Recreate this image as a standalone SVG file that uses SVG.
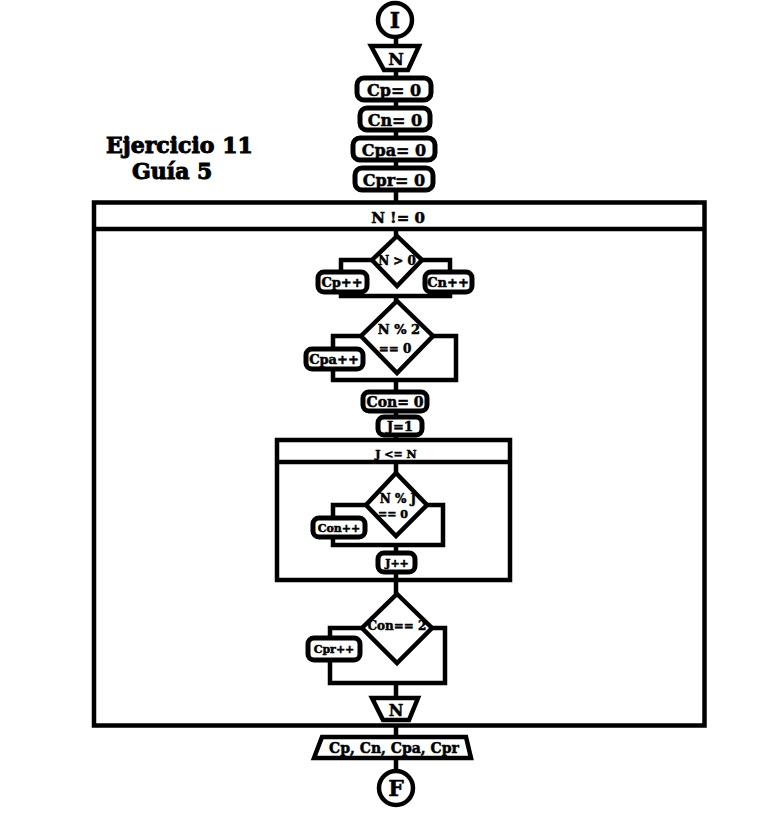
<svg xmlns="http://www.w3.org/2000/svg" width="780" height="815" viewBox="0 0 780 815">
<style>
.s{fill:#fff;stroke:#000;stroke-width:4.5;stroke-linejoin:miter}
.b{fill:#fff;stroke:#000;stroke-width:5}
.c{fill:none;stroke:#000;stroke-width:4.5;stroke-linejoin:miter}
text{font-family:"DejaVu Serif","Liberation Serif",serif;font-weight:bold;fill:#000;text-anchor:middle;stroke:#000;stroke-width:0.5}
.t{text-anchor:start;font-size:22px;stroke-width:1}
</style>
<rect width="780" height="815" fill="#fff"/>
<g id="title">
<text class="t" x="106" y="153">Ejercicio 11</text>
<text class="t" x="132" y="179">Guía 5</text>
</g>
<g id="connectors">
<path class="c" d="M396 38V46M396 70V78M396 100V108M396 130V138M396 160V168M396 190V202"/>
<path class="c" d="M396 229V236"/>
<path class="c" d="M372 260H341V272M341 292V296H450V292M422 260H450V272M396 296V301"/>
<path class="c" d="M361 336H333V349M333 369V380H456V336H433M396 380V392"/>
<path class="c" d="M396 411V417M396 435V440M396 462V473"/>
<path class="c" d="M366 505H333V518M333 537V545H443V505H427M396 545V553M396 572V580"/>
<path class="c" d="M396 580V594M362 628H330V638M330 660V683H445V628H432M396 683V698"/>
<path class="c" d="M396 727V737M396 758V770"/>
</g>
<g id="start">
<circle class="s" cx="395" cy="20" r="17"/>
<text x="395" y="28" font-size="22">I</text>
</g>
<g id="input-n">
<polygon class="s" points="371,46 419,46 408,70 384,70"/>
<text x="396" y="65" font-size="17">N</text>
</g>
<g id="cp0">
<rect class="b" x="357" y="78" width="74" height="22" rx="7"/>
<text x="394" y="96" font-size="16">Cp= 0</text>
</g>
<g id="cn0">
<rect class="b" x="360" y="108" width="70" height="22" rx="7"/>
<text x="395" y="126" font-size="16">Cn= 0</text>
</g>
<g id="cpa0">
<rect class="b" x="353" y="138" width="82" height="22" rx="7"/>
<text x="394" y="156" font-size="16">Cpa= 0</text>
</g>
<g id="cpr0">
<rect class="b" x="355" y="168" width="78" height="22" rx="7"/>
<text x="394" y="186" font-size="16">Cpr= 0</text>
</g>
<g id="loop-outer">
<rect class="c" x="94" y="202.5" width="610.5" height="523"/>
<line class="c" x1="94" y1="229" x2="704.5" y2="229"/>
<text x="398" y="223" font-size="15">N != 0</text>
</g>
<g id="dec-pos">
<polygon class="s" points="397,236 422,260 397,286 372,260"/>
<text x="397" y="265" font-size="12">N &gt; 0</text>
</g>
<g id="cp-inc">
<rect class="b" x="318" y="272" width="49" height="20" rx="6"/>
<text x="342" y="287" font-size="13">Cp++</text>
</g>
<g id="cn-inc">
<rect class="b" x="425" y="272" width="47" height="20" rx="6"/>
<text x="448" y="287" font-size="13">Cn++</text>
</g>
<g id="dec-par">
<polygon class="s" points="397,301 433,336 397,373 361,336"/>
<text x="399" y="334" font-size="13">N % 2</text>
<text x="395" y="353" font-size="12">== 0</text>
</g>
<g id="cpa-inc">
<rect class="b" x="306" y="349" width="57" height="20" rx="6"/>
<text x="334" y="364" font-size="13">Cpa++</text>
</g>
<g id="con0">
<rect class="b" x="363" y="392" width="64" height="19" rx="6"/>
<text x="395" y="407" font-size="14">Con= 0</text>
</g>
<g id="j1">
<rect class="b" x="378" y="417" width="44" height="18" rx="6"/>
<text x="400" y="431" font-size="13">J=1</text>
</g>
<g id="loop-inner">
<rect class="c" x="277" y="440" width="233" height="140"/>
<line class="c" x1="277" y1="462" x2="510" y2="462"/>
<text x="396" y="458" font-size="11">J &lt;= N</text>
</g>
<g id="dec-div">
<polygon class="s" points="396,473 427,505 396,536 366,505"/>
<text x="398" y="503" font-size="12">N % J</text>
<text x="393" y="518" font-size="11">== 0</text>
</g>
<g id="con-inc">
<rect class="b" x="313" y="518" width="52" height="19" rx="6"/>
<text x="339" y="532" font-size="11">Con++</text>
</g>
<g id="j-inc">
<rect class="b" x="378" y="553" width="37" height="19" rx="6"/>
<text x="397" y="567" font-size="11">J++</text>
</g>
<g id="dec-prime">
<polygon class="s" points="397,594 432,628 397,663 362,628"/>
<text x="397" y="630" font-size="12">Con== 2</text>
</g>
<g id="cpr-inc">
<rect class="b" x="308" y="638" width="52" height="22" rx="6"/>
<text x="334" y="653" font-size="11">Cpr++</text>
</g>
<g id="input-n2">
<polygon class="s" points="372,698 418,698 409,720 383,720"/>
<text x="396" y="716" font-size="16">N</text>
</g>
<g id="output">
<polygon class="s" points="322,737 466,737 471,758 314,758"/>
<text x="394" y="753" font-size="14">Cp, Cn, Cpa, Cpr</text>
</g>
<g id="end">
<circle class="s" cx="396" cy="788" r="17"/>
<text x="396" y="796" font-size="22">F</text>
</g>
</svg>
